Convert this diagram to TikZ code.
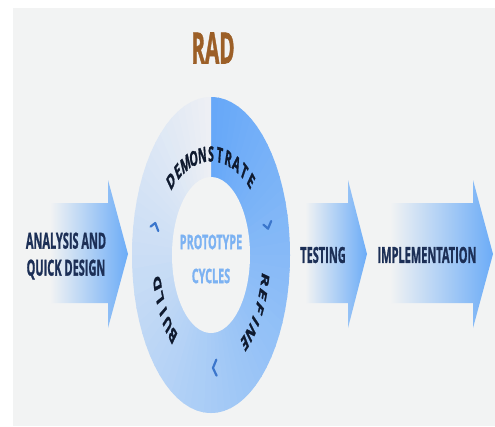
\documentclass[tikz,border=0pt]{standalone}
\usepackage{fontspec}
\setmainfont{Open Sans}[BoldFeatures={FakeBold=1.6}]
\definecolor{bg}{HTML}{F2F3F3}
\definecolor{navy}{HTML}{1C2F56}
\definecolor{radbrown}{HTML}{9C5F27}
\definecolor{ringA}{HTML}{66A8F8}
\definecolor{ringM}{HTML}{A8CCF6}
\definecolor{ringB}{HTML}{EEF0F4}
\definecolor{arrowblue}{HTML}{6CACF7}
\definecolor{chevblue}{HTML}{3B76CC}
\definecolor{centerblue}{HTML}{7CB2F2}
\begin{document}
\begin{tikzpicture}[x=1pt,y=-1pt,
  sidelabel/.style={font=\bfseries\fontsize{22}{27}\selectfont, text=navy, inner sep=0pt, align=center, xscale=0.5},
  ringtxt/.style={font=\bfseries\fontsize{21}{21}\selectfont, text=navy!55!black, inner sep=0pt, transform shape},
  centertxt/.style={font=\bfseries\fontsize{20}{20}\selectfont, text=centerblue, inner sep=0pt, xscale=0.54},
  chev/.style={draw=chevblue, line width=2.2pt, line cap=round, line join=round},
  blockarrow/.style={left color=bg, right color=arrowblue, draw=none},
]
\useasboundingbox (0,0) rectangle (495,426);
\fill[white] (0,0) rectangle (495,426);
\fill[bg] (13,8) rectangle (495,426);

% block arrows
\path[blockarrow] (50,203) -- (108,203) -- (108,180) -- (128,254) -- (108,328) -- (108,303) -- (50,303) -- cycle;
\path[blockarrow] (305,203) -- (348,203) -- (348,180) -- (367,254) -- (348,328) -- (348,303) -- (305,303) -- cycle;
\path[blockarrow] (390,203) -- (473,203) -- (473,180) -- (493,254) -- (473,328) -- (473,303) -- (390,303) -- cycle;

% ring
\begin{scope}[shift={(211,255)}, xscale=0.5, y={(0pt,1pt)}]
  \begin{scope}
    \clip (0,0) circle[radius=158];
    \foreach \i in {0,...,71} {
      \pgfmathsetmacro\a{90-5*\i}
      \ifnum\i<71
        \pgfmathsetmacro\b{90-5*(\i+1)-0.8}
      \else
        \pgfmathsetmacro\b{90-5*(\i+1)}
      \fi
      \pgfmathsetmacro\t{(\i+0.5)/72}
      \ifdim\t pt<0.5pt
        \pgfmathtruncatemacro\p{\t*200}
        \fill[ringM!\p!ringA] (0,0) -- (\a:220) -- (\b:220) -- cycle;
      \else
        \pgfmathtruncatemacro\p{(\t-0.5)*200}
        \fill[ringB!\p!ringM] (0,0) -- (\a:220) -- (\b:220) -- cycle;
      \fi
    }
  \end{scope}
  \fill[bg] (0,0) circle[radius=78];

  % ring texts
  \foreach \ch [count=\i] in {D,E,M,O,N,S,T,R,A,T,E} {
    \pgfmathsetmacro\ang{132.7-(\i-1)*8.54}
    \node[ringtxt, rotate=\ang-90] (dem\i) at (\ang:118 and 101) {\ch};
  }
  \foreach \ch [count=\i] in {R,E,F,I,N,E} {
    \pgfmathsetmacro\ang{-13-(\i-1)*7.86}
    \node[ringtxt, rotate=\ang-90] (ref\i) at (\ang:111) {\ch};
  }
  \foreach \ch [count=\i] in {B,U,I,L,D} {
    \pgfmathsetmacro\ang{226.4-(\i-1)*7.9}
    \node[ringtxt, rotate=\ang-90] (bld\i) at (\ang:111) {\ch};
  }

  % chevrons
  \draw[chev, shift={(164:116)}, rotate=74] (-6,8) -- (0,0) -- (-6,-8);
  \draw[chev, shift={(13:117)}, rotate=-77] (-6,8) -- (0,0) -- (-6,-8);
  \draw[chev, shift={(-88:113)}, rotate=-178] (-7,8) -- (0,0) -- (-7,-8);
\end{scope}

% texts
\node[font=\bfseries\fontsize{43}{43}\selectfont, text=radbrown, inner sep=0pt, xscale=0.48] (rad) at (213,48) {RAD};
\node[centertxt] (proto) at (211,242) {PROTOTYPE};
\node[centertxt] (cyc) at (211,276) {CYCLES};
\node[sidelabel] (analysis) at (66,256) {ANALYSIS AND\\QUICK DESIGN};
\node[sidelabel] (testing) at (323,255) {TESTING};
\node[sidelabel] (impl) at (427,255) {IMPLEMENTATION};
\end{tikzpicture}
\end{document}
